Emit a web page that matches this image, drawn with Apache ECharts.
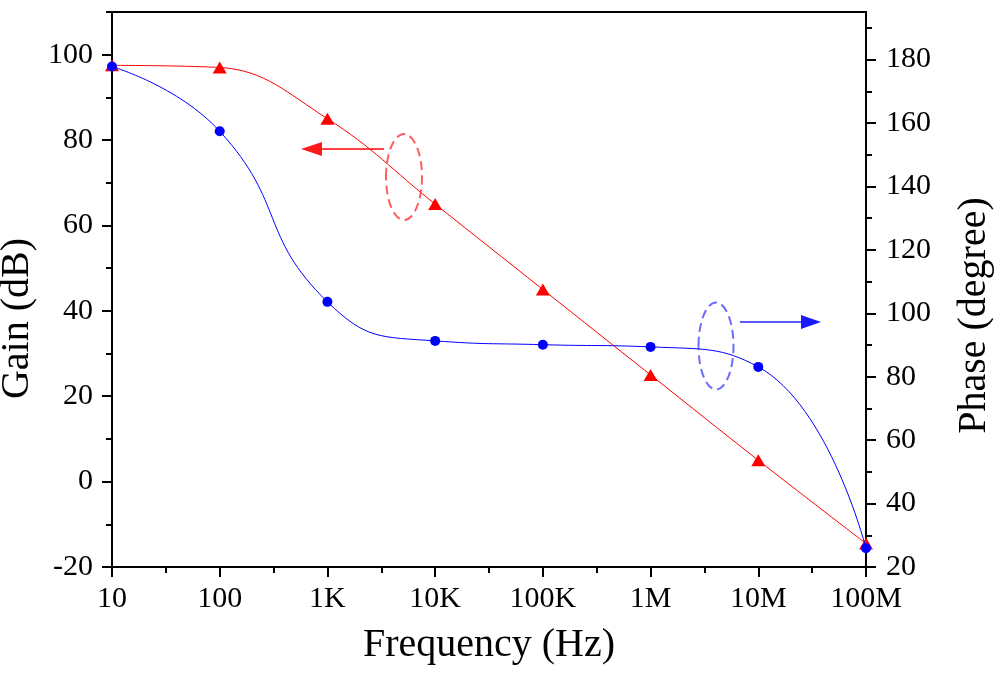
<!DOCTYPE html>
<html>
<head>
<meta charset="utf-8">
<script src="https://cdn.jsdelivr.net/npm/echarts@6/dist/echarts.min.js"></script>
<style>
  html, body { margin: 0; padding: 0; background: #fff; }
  #main { width: 1000px; height: 680px; }
</style>
</head>
<body>
<div id="main"></div>
<script>
// data
var freqs = [10, 100, 1e3, 1e4, 1e5, 1e6, 1e7, 1e8];
var freqLabels = ['10', '100', '1K', '10K', '100K', '1M', '10M', '100M'];
var gain = [97.5, 97, 85, 65, 45, 25, 5, -14.5];
var phase = [177.8, 157.4, 103.6, 91.3, 90.1, 89.4, 83.1, 25.9];
var phaseTicks = [20, 40, 60, 80, 100, 120, 140, 160, 180];
var phaseMinorTicks = [30, 50, 70, 90, 110, 130, 150, 170, 190];

var chart = echarts.init(document.getElementById('main'));
var FONT = 'Liberation Serif';

function pairs(xs, ys) {
    return xs.map(function (x, i) { return [x, ys[i]]; });
}

var axisLine = { show: true, onZero: false, lineStyle: { color: '#000', width: 2 } };
var noLine = { show: false, onZero: false };
var nameStyle = { fontFamily: FONT, fontSize: 40, color: '#000' };
var labelStyle = { fontFamily: FONT, fontSize: 30, color: '#000' };
function tick(len, extra) {
    return Object.assign({ show: true, inside: false, length: len, lineStyle: { color: '#000', width: 2 } }, extra || {});
}

var option = {
    backgroundColor: '#fff',
    animation: false,
    grid: {
        left: 112, right: 134, top: 12, bottom: 113,
        outerBoundsMode: 'none',
        containLabel: false,
        show: true, borderColor: '#000', borderWidth: 2,
        backgroundColor: 'transparent'
    },
    xAxis: [
        {
            type: 'log',
            logBase: 10,
            min: 10,
            max: 1e8,
            position: 'bottom',
            name: 'Frequency (Hz)',
            nameLocation: 'middle',
            nameGap: 58,
            nameTextStyle: nameStyle,
            axisLine: axisLine,
            axisTick: tick(10),
            axisLabel: Object.assign({
                margin: 17,
                formatter: function (v) {
                    var i = Math.round(Math.log10(v)) - 1;
                    return freqLabels[i] !== undefined ? freqLabels[i] : '';
                }
            }, labelStyle),
            splitLine: { show: false }
        },
        {
            // half-decade minor ticks, in log10 units
            type: 'value',
            min: 1,
            max: 8,
            interval: 0.5,
            position: 'bottom',
            axisLine: noLine,
            axisTick: tick(6),
            axisLabel: { show: false },
            splitLine: { show: false }
        }
    ],
    yAxis: [
        {
            type: 'value',
            position: 'left',
            min: -20,
            max: 110,
            interval: 20,
            name: 'Gain (dB)',
            nameLocation: 'middle',
            nameGap: 68,
            nameTextStyle: Object.assign({ padding: [0, 58, 0, 0] }, nameStyle),
            axisLine: axisLine,
            axisTick: tick(10),
            axisLabel: Object.assign({ margin: 19, showMaxLabel: false }, labelStyle),
            splitLine: { show: false }
        },
        {
            type: 'value',
            position: 'right',
            min: 20,
            max: 195,
            interval: 20,
            name: 'Phase (degree)',
            nameLocation: 'middle',
            nameGap: 88,
            nameRotate: 90,
            nameTextStyle: Object.assign({ padding: [0, 52, 0, 0] }, nameStyle),
            axisLine: axisLine,
            axisTick: tick(10, { customValues: phaseTicks }),
            axisLabel: Object.assign({ margin: 20, customValues: phaseTicks }, labelStyle),
            splitLine: { show: false }
        },
        {
            type: 'value',
            position: 'left',
            min: -20,
            max: 110,
            interval: 10,
            axisLine: noLine,
            axisTick: tick(6),
            axisLabel: { show: false },
            splitLine: { show: false }
        },
        {
            type: 'value',
            position: 'right',
            min: 20,
            max: 195,
            interval: 10,
            axisLine: noLine,
            axisTick: tick(6, { customValues: phaseMinorTicks }),
            axisLabel: { show: false },
            splitLine: { show: false }
        }
    ],
    series: [
        {
            name: 'Gain',
            type: 'line',
            xAxisIndex: 0,
            yAxisIndex: 0,
            data: pairs(freqs, gain),
            smooth: 0.4,
            symbol: 'triangle',
            symbolSize: [14, 12],
            lineStyle: { color: '#ff0000', width: 1 },
            itemStyle: { color: '#ff0000' },
            z: 3
        },
        {
            name: 'Phase',
            type: 'line',
            xAxisIndex: 0,
            yAxisIndex: 1,
            data: pairs(freqs, phase),
            smooth: 0.5,
            symbol: 'circle',
            symbolSize: 10,
            lineStyle: { color: '#0000ff', width: 1 },
            itemStyle: { color: '#0000ff' },
            z: 4
        }
    ],
    graphic: [
        // red marker: ellipse + arrow to the left axis
        {
            type: 'ellipse', z: 10,
            shape: { cx: 404, cy: 177, rx: 18, ry: 43 },
            style: { fill: 'none', stroke: 'rgba(255,40,40,0.75)', lineWidth: 2, lineDash: [9, 5] }
        },
        {
            type: 'line', z: 10,
            shape: { x1: 384, y1: 149, x2: 320, y2: 149 },
            style: { stroke: 'rgba(255,30,30,0.85)', lineWidth: 2 }
        },
        {
            type: 'polygon', z: 10,
            shape: { points: [[301, 149], [322, 142], [322, 156]] },
            style: { fill: '#ff1a1a' }
        },
        // blue marker: ellipse + arrow to the right axis
        {
            type: 'ellipse', z: 10,
            shape: { cx: 716, cy: 346, rx: 17.5, ry: 43.5 },
            style: { fill: 'none', stroke: 'rgba(60,60,255,0.75)', lineWidth: 2, lineDash: [9, 5] }
        },
        {
            type: 'line', z: 10,
            shape: { x1: 740, y1: 322, x2: 803, y2: 322 },
            style: { stroke: 'rgba(50,50,255,0.8)', lineWidth: 2 }
        },
        {
            type: 'polygon', z: 10,
            shape: { points: [[821, 322], [801, 315], [801, 329]] },
            style: { fill: '#1a1aff' }
        }
    ]
};

chart.setOption(option);
</script>
</body>
</html>
